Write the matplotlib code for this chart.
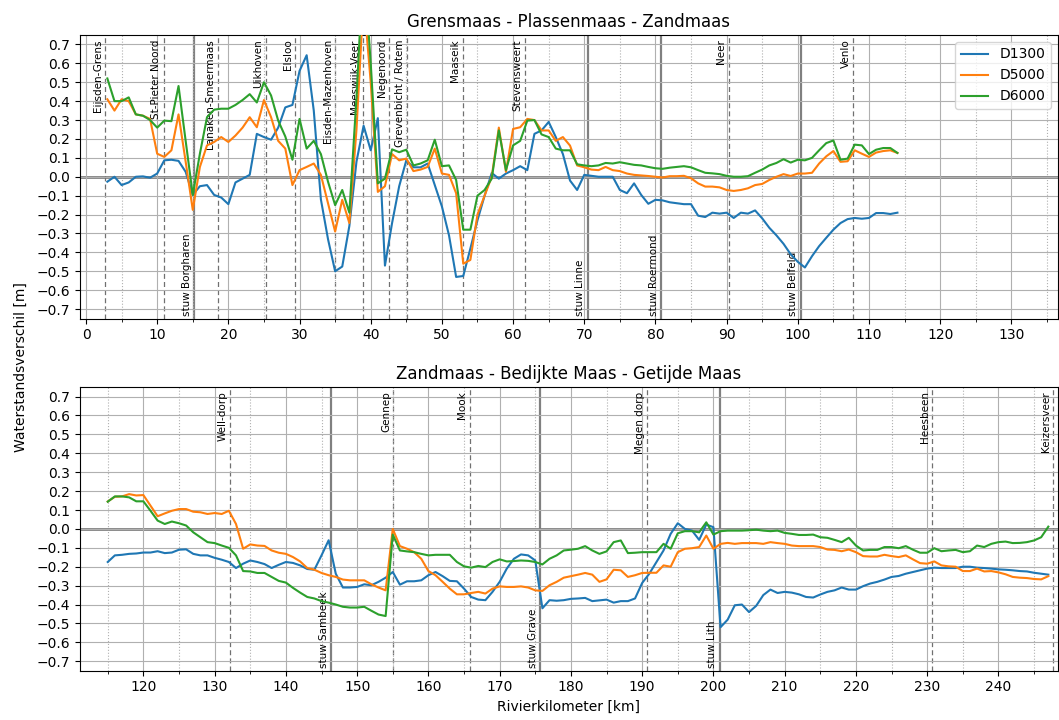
"""
Waterstandsverschil along the Maas for three scenarios (D1300, D5000, D6000)
Top panel: Grensmaas - Plassenmaas - Zandmaas
Bottom panel: Zandmaas - Bedijkte Maas - Getijde Maas
"""

# General imports
# ---------------
import numpy as np
import matplotlib
matplotlib.use('Agg')
import matplotlib.pyplot as plt
import matplotlib.transforms as mtransforms
from matplotlib.ticker import MultipleLocator

# Data
# ----
series_names = ['D1300', 'D5000', 'D6000']

# top panel, river km 3 .. 114
km_top = np.arange(3, 115)
d1300_top = [-0.026, 0.0, -0.044, -0.03, 0.0, 0.002, -0.005, 0.017, 0.087, 0.09,
             0.084, 0.026, -0.096, -0.05, -0.044, -0.096, -0.11, -0.145, -0.03, -0.01,
             0.01, 0.227, 0.21, 0.196, 0.26, 0.367, 0.38, 0.56, 0.643, 0.35,
             -0.12, -0.33, -0.5, -0.475, -0.26, 0.08, 0.27, 0.14, 0.31, -0.47,
             -0.245, -0.05, 0.087, 0.05, 0.05, 0.07, -0.044, -0.157, -0.31, -0.53,
             -0.525, -0.38, -0.23, -0.10, 0.02, -0.01, 0.017, 0.035, 0.056, 0.035,
             0.227, 0.245, 0.29, 0.21, 0.12, -0.02, -0.07, 0.01, 0.005, 0.0,
             0.0, 0.0, -0.07, -0.087, -0.035, -0.096, -0.143, -0.122, -0.125, -0.135,
             -0.14, -0.145, -0.145, -0.206, -0.213, -0.19, -0.195, -0.19, -0.218, -0.19,
             -0.195, -0.178, -0.22, -0.27, -0.31, -0.355, -0.41, -0.45, -0.48, -0.42,
             -0.367, -0.323, -0.28, -0.245, -0.224, -0.218, -0.222, -0.218, -0.192, -0.192,
             -0.197, -0.19]
d5000_top = [0.41, 0.35, 0.41, 0.40, 0.33, 0.323, 0.306, 0.122, 0.105, 0.14,
             0.33, 0.08, -0.175, 0.052, 0.166, 0.184, 0.21, 0.184, 0.218, 0.26,
             0.315, 0.262, 0.406, 0.315, 0.19, 0.149, -0.044, 0.035, 0.052, 0.07,
             0.01, -0.14, -0.29, -0.122, -0.245, 0.25, 0.95, 0.5, -0.08, -0.05,
             0.12, 0.087, 0.096, 0.03, 0.038, 0.052, 0.149, 0.017, 0.01, -0.087,
             -0.46, -0.44, -0.2, -0.1, 0.0, 0.26, 0.026, 0.253, 0.262, 0.306,
             0.3, 0.245, 0.245, 0.19, 0.21, 0.165, 0.06, 0.05, 0.038, 0.035,
             0.052, 0.035, 0.03, 0.017, 0.01, 0.007, 0.004, 0.0, -0.004, 0.003,
             0.003, 0.005, -0.008, -0.035, -0.052, -0.052, -0.056, -0.07, -0.075, -0.07,
             -0.061, -0.044, -0.038, -0.017, 0.0, 0.014, 0.004, 0.017, 0.017, 0.021,
             0.07, 0.108, 0.136, 0.079, 0.082, 0.14, 0.122, 0.105, 0.128, 0.136,
             0.14, 0.126]
d6000_top = [0.52, 0.40, 0.40, 0.42, 0.33, 0.323, 0.30, 0.26, 0.297, 0.294,
             0.48, 0.19, -0.096, 0.122, 0.315, 0.355, 0.36, 0.36, 0.38, 0.406,
             0.437, 0.393, 0.50, 0.43, 0.297, 0.213, 0.09, 0.306, 0.149, 0.19,
             0.12, -0.026, -0.15, -0.07, -0.19, 0.42, 1.15, 0.6, -0.035, -0.01,
             0.145, 0.13, 0.143, 0.06, 0.07, 0.087, 0.196, 0.056, 0.06, -0.017,
             -0.28, -0.28, -0.1, -0.07, -0.01, 0.245, 0.035, 0.166, 0.19, 0.297,
             0.3, 0.224, 0.21, 0.149, 0.14, 0.14, 0.066, 0.06, 0.056, 0.06,
             0.073, 0.07, 0.077, 0.07, 0.063, 0.06, 0.052, 0.045, 0.042, 0.048,
             0.052, 0.056, 0.05, 0.035, 0.021, 0.018, 0.014, 0.005, 0.0, 0.0,
             0.003, 0.021, 0.038, 0.06, 0.073, 0.093, 0.075, 0.09, 0.087, 0.1,
             0.14, 0.178, 0.192, 0.09, 0.096, 0.17, 0.166, 0.12, 0.143, 0.152,
             0.152, 0.126]

# bottom panel, river km 115 .. 247
km_bot = np.arange(115, 248)
d1300_bot = [-0.175, -0.14, -0.137, -0.132, -0.13, -0.125, -0.125, -0.118, -0.128, -0.125,
             -0.11, -0.108, -0.132, -0.14, -0.14, -0.153, -0.163, -0.175, -0.207, -0.184,
             -0.167, -0.175, -0.186, -0.207, -0.19, -0.175, -0.18, -0.193, -0.212, -0.216,
             -0.14, -0.06, -0.237, -0.31, -0.31, -0.307, -0.293, -0.298, -0.28, -0.258,
             -0.228, -0.295, -0.277, -0.277, -0.272, -0.245, -0.228, -0.25, -0.275, -0.277,
             -0.316, -0.36, -0.374, -0.377, -0.333, -0.28, -0.21, -0.158, -0.135, -0.14,
             -0.167, -0.42, -0.377, -0.38, -0.377, -0.37, -0.368, -0.365, -0.382, -0.378,
             -0.374, -0.39, -0.382, -0.382, -0.368, -0.286, -0.237, -0.175, -0.114, -0.026,
             0.03, 0.0, -0.009, -0.058, 0.023, 0.009, -0.52, -0.48, -0.404, -0.4,
             -0.44, -0.407, -0.35, -0.321, -0.339, -0.333, -0.337, -0.346, -0.36, -0.363,
             -0.347, -0.333, -0.325, -0.31, -0.321, -0.321, -0.303, -0.289, -0.28, -0.268,
             -0.254, -0.249, -0.237, -0.228, -0.219, -0.21, -0.205, -0.207, -0.207, -0.207,
             -0.2, -0.2, -0.205, -0.207, -0.21, -0.214, -0.216, -0.219, -0.223, -0.225,
             -0.232, -0.237, -0.242]
d5000_bot = [0.145, 0.17, 0.172, 0.184, 0.177, 0.179, 0.123, 0.067, 0.082, 0.096,
             0.105, 0.105, 0.091, 0.088, 0.079, 0.084, 0.079, 0.096, 0.026, -0.105,
             -0.082, -0.088, -0.09, -0.114, -0.126, -0.132, -0.149, -0.172, -0.207, -0.216,
             -0.233, -0.245, -0.254, -0.268, -0.272, -0.272, -0.272, -0.293, -0.31, -0.325,
             0.0, -0.091, -0.105, -0.123, -0.158, -0.223, -0.245, -0.28, -0.316, -0.346,
             -0.346, -0.339, -0.333, -0.342, -0.316, -0.304, -0.307, -0.307, -0.304, -0.31,
             -0.325, -0.328, -0.298, -0.28, -0.258, -0.25, -0.242, -0.233, -0.242, -0.28,
             -0.267, -0.216, -0.219, -0.254, -0.245, -0.233, -0.232, -0.232, -0.193, -0.2,
             -0.123, -0.105, -0.102, -0.096, -0.035, -0.105, -0.079, -0.074, -0.079, -0.075,
             -0.075, -0.075, -0.079, -0.07, -0.075, -0.079, -0.088, -0.091, -0.091, -0.091,
             -0.096, -0.109, -0.111, -0.118, -0.109, -0.123, -0.144, -0.146, -0.146, -0.137,
             -0.144, -0.149, -0.14, -0.161, -0.181, -0.184, -0.172, -0.193, -0.198, -0.2,
             -0.223, -0.223, -0.21, -0.225, -0.223, -0.23, -0.24, -0.254, -0.258, -0.26,
             -0.265, -0.267, -0.25]
d6000_bot = [0.144, 0.172, 0.172, 0.167, 0.146, 0.146, 0.096, 0.044, 0.026, 0.039,
             0.03, 0.018, -0.018, -0.044, -0.07, -0.075, -0.088, -0.1, -0.14, -0.223,
             -0.225, -0.233, -0.233, -0.254, -0.275, -0.284, -0.312, -0.337, -0.36, -0.368,
             -0.382, -0.39, -0.4, -0.412, -0.416, -0.416, -0.412, -0.433, -0.453, -0.461,
             -0.03, -0.114, -0.119, -0.123, -0.132, -0.14, -0.137, -0.137, -0.137, -0.175,
             -0.198, -0.205, -0.196, -0.202, -0.175, -0.161, -0.172, -0.17, -0.167, -0.169,
             -0.175, -0.188, -0.158, -0.14, -0.114, -0.11, -0.105, -0.091, -0.114, -0.132,
             -0.119, -0.07, -0.061, -0.128, -0.126, -0.123, -0.123, -0.123, -0.079, -0.105,
             -0.023, -0.012, -0.012, -0.018, 0.035, -0.03, -0.012, -0.009, -0.009, -0.009,
             -0.007, -0.004, -0.009, -0.012, -0.009, -0.021, -0.026, -0.032, -0.032, -0.03,
             -0.044, -0.047, -0.058, -0.07, -0.047, -0.088, -0.114, -0.111, -0.111, -0.096,
             -0.096, -0.102, -0.091, -0.11, -0.126, -0.126, -0.102, -0.118, -0.114, -0.111,
             -0.123, -0.118, -0.088, -0.096, -0.079, -0.07, -0.067, -0.075, -0.074, -0.07,
             -0.061, -0.044, 0.012]

# locations (dashed) and weirs (solid)
top_locs = ['Eijsden-Grens', 'St-Pieter Noord', 'Lanaken-Smeermaas', 'Uikhoven', 'Elsloo',
            'Eisden-Mazenhoven', 'Meeswijk-Veer', 'Negenoord', 'Grevenbicht / Rotem',
            'Maaseik', 'Stevensweert', 'Neer', 'Venlo']
top_loc_km = [2.7, 10.9, 18.5, 25.3, 29.4, 35.0, 38.9, 42.6, 45.1, 52.9, 61.7, 90.3, 107.8]
top_weirs = ['stuw Borgharen', 'stuw Linne', 'stuw Roermond', 'stuw Belfeld']
top_weir_km = [15.2, 70.5, 80.8, 100.4]

bot_locs = ['Well-dorp', 'Gennep', 'Mook', 'Megen dorp', 'Heesbeen', 'Keizersveer']
bot_loc_km = [132.2, 155.1, 165.8, 190.7, 230.7, 247.7]
bot_weirs = ['stuw Sambeek', 'stuw Grave', 'stuw Lith']
bot_weir_km = [146.4, 175.7, 200.9]

# Draw figure
# -----------
fig, (ax1, ax2) = plt.subplots(2, 1, figsize=(10.59, 7.2), dpi=100)
plt.subplots_adjust(left=0.0755, right=0.999, top=0.9514, bottom=0.0685, hspace=0.242)

panels = [(ax1, km_top, [d1300_top, d5000_top, d6000_top], top_locs, top_loc_km, top_weirs, top_weir_km,
           'Grensmaas - Plassenmaas - Zandmaas', (-0.85, 136.55), np.arange(0, 131, 10)),
          (ax2, km_bot, [d1300_bot, d5000_bot, d6000_bot], bot_locs, bot_loc_km, bot_weirs, bot_weir_km,
           'Zandmaas - Bedijkte Maas - Getijde Maas', (111.1, 248.35), np.arange(120, 241, 10))]

for ax, km, vals, locs, loc_km, weirs, weir_km, title, xlims, xticks in panels:
    ax.grid(which='major', color='#b0b0b0', linewidth=0.8, zorder=0)
    ax.xaxis.set_minor_locator(MultipleLocator(5))
    ax.grid(which='minor', axis='x', color='#b0b0b0', linewidth=0.8, linestyle=':', zorder=0)
    ax.axhline(0, color='grey', linewidth=2, zorder=1)

    trans = mtransforms.blended_transform_factory(ax.transData, ax.transAxes)
    for name, x in zip(locs, loc_km):
        ax.axvline(x, color='#707070', linewidth=0.9, linestyle=(0, (4, 2.5)), zorder=1)
        ax.text(x - 0.35, 0.985, name, transform=trans, rotation=90, fontsize=7.5,
                ha='right', va='top', zorder=2)
    for name, x in zip(weirs, weir_km):
        ax.axvline(x, color='grey', linewidth=1.6, zorder=1)
        ax.text(x - 0.35, 0.01, name, transform=trans, rotation=90, fontsize=7.5,
                ha='right', va='bottom', zorder=2)

    for v, name in zip(vals, series_names):
        ax.plot(km, v, linewidth=1.5, label=name, zorder=3)

    ax.set_xlim(*xlims)
    ax.set_xticks(xticks)
    ax.set_ylim(-0.75, 0.75)
    ax.set_yticks(np.round(np.arange(-0.7, 0.71, 0.1), 1))
    ax.set_title(title, fontsize=12)

ax1.legend(loc='upper right')
ax2.set_xlabel('Rivierkilometer [km]', fontsize=10)
fig.text(0.02, 0.49, 'Waterstandsverschil [m]', rotation=90, va='center', ha='center', fontsize=10)

plt.savefig('out.png', dpi=100)
